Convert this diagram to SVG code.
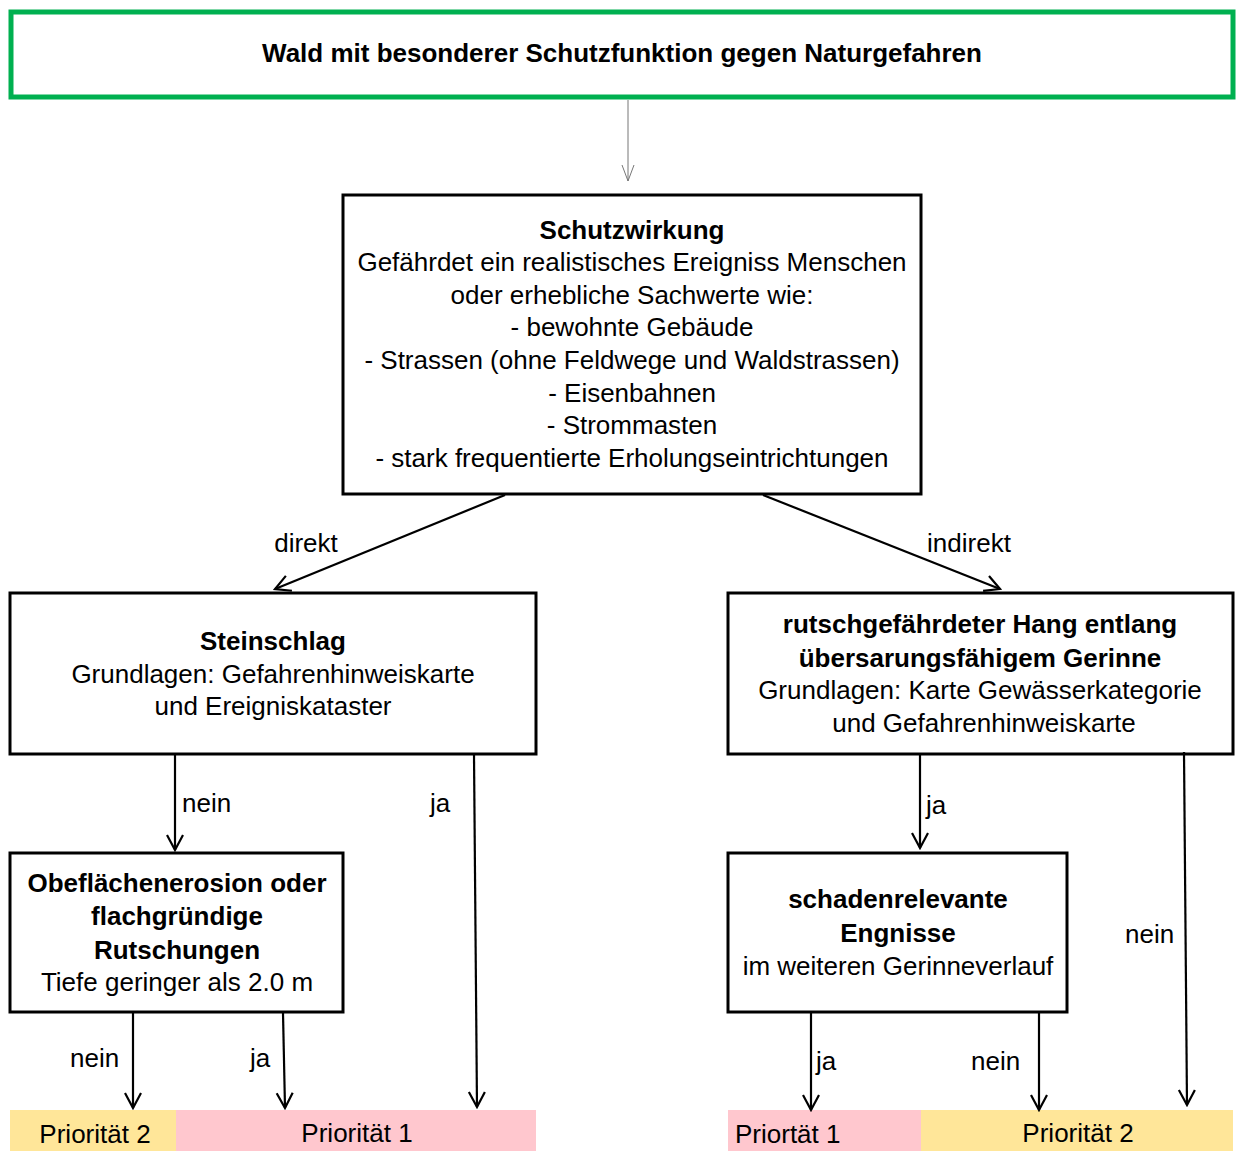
<svg xmlns="http://www.w3.org/2000/svg" width="1241" height="1151" viewBox="0 0 1241 1151">
<style>
text{font-family:"Liberation Sans",Arial,sans-serif;font-size:26px;fill:#000;text-anchor:middle}
.b{font-weight:bold}
.l{text-anchor:start}
.box{fill:#fff;stroke:#000;stroke-width:3}
.c{fill:none;stroke:#000;stroke-width:2.2}
</style>
<defs>
<marker id="ah" markerUnits="userSpaceOnUse" markerWidth="20" markerHeight="20" viewBox="-18 -10 20 20" refX="0" refY="0" orient="auto">
<path d="M-15,-8 L0,0 L-15,8" fill="none" stroke="#000" stroke-width="2.2"/>
</marker>
<marker id="ag" markerUnits="userSpaceOnUse" markerWidth="20" markerHeight="20" viewBox="-18 -10 20 20" refX="0" refY="0" orient="auto">
<path d="M-16,-6 L0,0 L-16,6" fill="none" stroke="#777" stroke-width="1"/>
</marker>
</defs>
<g id="top">
<rect x="11" y="12" width="1222" height="85" fill="#fff" stroke="#00B050" stroke-width="5"/>
<text class="b" x="622" y="62">Wald mit besonderer Schutzfunktion gegen Naturgefahren</text>
</g>
<g id="schutzwirkung">
<rect class="box" x="343" y="195" width="578" height="299"/>
<text class="b" x="632" y="239">Schutzwirkung</text>
<text x="632" y="271">Gefährdet ein realistisches Ereigniss Menschen</text>
<text x="632" y="304">oder erhebliche Sachwerte wie:</text>
<text x="632" y="336">- bewohnte Gebäude</text>
<text x="632" y="369">- Strassen (ohne Feldwege und Waldstrassen)</text>
<text x="632" y="402">- Eisenbahnen</text>
<text x="632" y="434">- Strommasten</text>
<text x="632" y="467">- stark frequentierte Erholungseintrichtungen</text>
</g>
<g id="steinschlag">
<rect class="box" x="10" y="593" width="526" height="161"/>
<text class="b" x="273" y="650">Steinschlag</text>
<text x="273" y="683">Grundlagen: Gefahrenhinweiskarte</text>
<text x="273" y="715">und Ereigniskataster</text>
</g>
<g id="hang">
<rect class="box" x="728" y="593" width="505" height="161"/>
<text class="b" x="980" y="633">rutschgefährdeter Hang entlang</text>
<text class="b" x="980" y="667">übersarungsfähigem Gerinne</text>
<text x="980" y="699">Grundlagen: Karte Gewässerkategorie</text>
<text x="984" y="732">und Gefahrenhinweiskarte</text>
</g>
<g id="erosion">
<rect class="box" x="10" y="853" width="333" height="159"/>
<text class="b" x="177" y="892">Obeflächenerosion oder</text>
<text class="b" x="177" y="925">flachgründige</text>
<text class="b" x="177" y="959">Rutschungen</text>
<text x="177" y="991">Tiefe geringer als 2.0 m</text>
</g>
<g id="engnisse">
<rect class="box" x="728" y="853" width="339" height="159"/>
<text class="b" x="898" y="908">schadenrelevante</text>
<text class="b" x="898" y="942">Engnisse</text>
<text x="898" y="975">im weiteren Gerinneverlauf</text>
</g>
<g id="prio-left-2">
<rect x="10" y="1110" width="166" height="41" fill="#FFE699"/>
<text x="95" y="1143">Priorität 2</text>
</g>
<g id="prio-left-1">
<rect x="176" y="1110" width="360" height="41" fill="#FFC7CE"/>
<text x="357" y="1142">Priorität 1</text>
</g>
<g id="prio-right-1">
<rect x="728" y="1110" width="193" height="41" fill="#FFC7CE"/>
<text class="l" x="735" y="1143">Priortät 1</text>
</g>
<g id="prio-right-2">
<rect x="921" y="1110" width="312" height="41" fill="#FFE699"/>
<text x="1078" y="1142">Priorität 2</text>
</g>
<g id="connectors">
<line x1="628" y1="100" x2="628" y2="181" stroke="#777" stroke-width="1" marker-end="url(#ag)"/>
<line class="c" x1="505" y1="495" x2="275" y2="589" marker-end="url(#ah)"/>
<line class="c" x1="763" y1="495" x2="1000" y2="589" marker-end="url(#ah)"/>
<line class="c" x1="175" y1="755" x2="175" y2="850" marker-end="url(#ah)"/>
<line class="c" x1="474" y1="755" x2="477" y2="1107" marker-end="url(#ah)"/>
<line class="c" x1="920" y1="755" x2="920" y2="848" marker-end="url(#ah)"/>
<line class="c" x1="1184" y1="752" x2="1187" y2="1105" marker-end="url(#ah)"/>
<line class="c" x1="133" y1="1013" x2="133" y2="1108" marker-end="url(#ah)"/>
<line class="c" x1="283" y1="1013" x2="285" y2="1108" marker-end="url(#ah)"/>
<line class="c" x1="811" y1="1013" x2="811" y2="1110" marker-end="url(#ah)"/>
<line class="c" x1="1039" y1="1013" x2="1039" y2="1110" marker-end="url(#ah)"/>
<text x="306" y="552">direkt</text>
<text x="969" y="552">indirekt</text>
<text class="l" x="182" y="812">nein</text>
<text class="l" x="430" y="812">ja</text>
<text class="l" x="926" y="814">ja</text>
<text class="l" x="1125" y="943">nein</text>
<text class="l" x="70" y="1067">nein</text>
<text class="l" x="250" y="1067">ja</text>
<text class="l" x="816" y="1070">ja</text>
<text class="l" x="971" y="1070">nein</text>
</g>
</svg>
